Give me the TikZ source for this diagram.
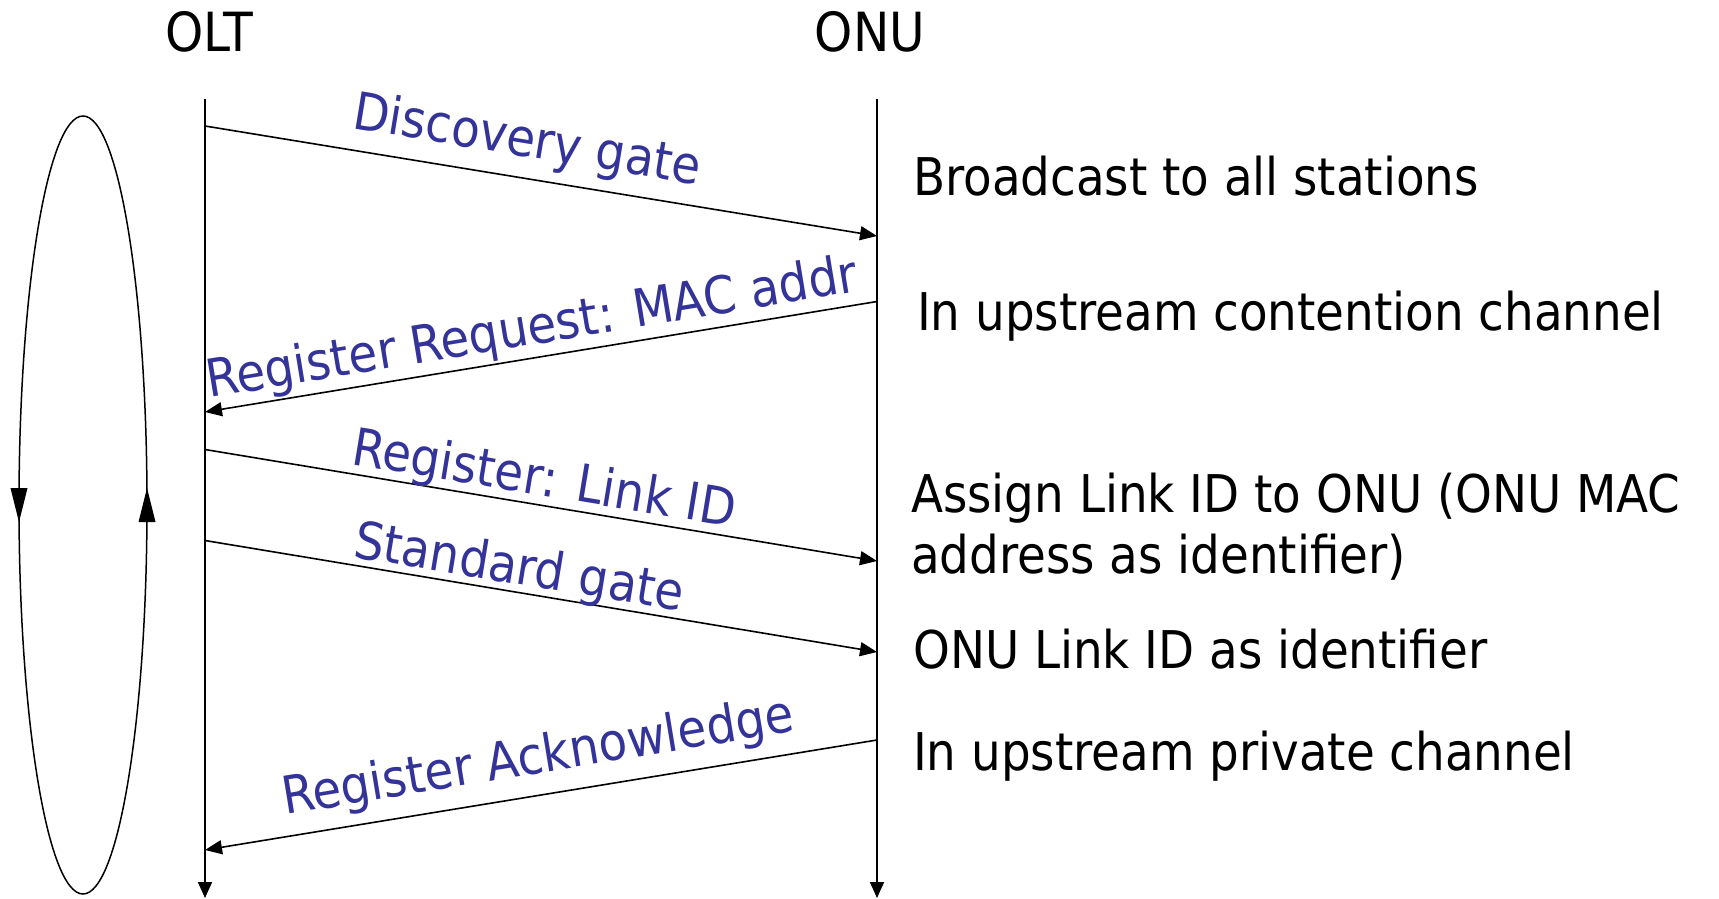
\documentclass[tikz,border=0pt]{standalone}
\usepackage{fontspec}
\setmainfont{DejaVu Sans Condensed}
\usetikzlibrary{arrows.meta}
\definecolor{msgblue}{RGB}{51,51,153}

\begin{document}
\begin{tikzpicture}[x=1pt,y=-1pt,
  every node/.style={inner sep=0pt, font=\fontsize{52}{61}\selectfont},
  heading/.style={anchor=base, font=\fontsize{54}{61}\selectfont},
  lifeline/.style={line width=1.6pt, -{Triangle[length=16pt,width=14pt]}},
  msg/.style={line width=1.6pt, -{Triangle[length=17pt,width=14pt]}},
  msglabel/.style={text=msgblue, anchor=base west},
  note/.style={anchor=base west},
  loop/.style={line width=1.5pt},
  looptip/.style={fill=black},
]
\useasboundingbox (0,0) rectangle (1719,899);

% station headings
\node[heading] (olt) at (209,52) {OLT};
\node[heading] (onu) at (870,52) {ONU};

% lifelines
\coordinate (olttop) at (205,99);
\coordinate (oltend) at (205,898);
\coordinate (onutop) at (877,99);
\coordinate (onuend) at (877,898);
\draw[lifeline] (olttop) -- (oltend);
\draw[lifeline] (onutop) -- (onuend);

% message end points on the lifelines
\coordinate (m1a) at (205,126);   \coordinate (m1b) at (877,236);
\coordinate (m2a) at (877,301.5); \coordinate (m2b) at (205,412);
\coordinate (m3a) at (205,449.5); \coordinate (m3b) at (877,561);
\coordinate (m4a) at (205,540.5); \coordinate (m4b) at (877,652);
\coordinate (m5a) at (877,740);   \coordinate (m5b) at (205,850);

\draw[msg] (m1a) -- (m1b);
\draw[msg] (m2a) -- (m2b);
\draw[msg] (m3a) -- (m3b);
\draw[msg] (m4a) -- (m4b);
\draw[msg] (m5a) -- (m5b);

% message labels
\node[msglabel, rotate=-9.34] (l1) at (351,128) {Discovery gate};
\node[msglabel, rotate=9.34]  (l2) at (209,398) {Register Request: MAC addr};
\node[msglabel, rotate=-9.34] (l3) at (350,464) {Register: Link ID};
\node[msglabel, rotate=-9.34] (l4) at (352,557) {Standard gate};
\node[msglabel, rotate=9.34]  (l5) at (285,815) {Register Acknowledge};

% explanations beside the ONU lifeline
\node[note] (n1) at (913,195) {Broadcast to all stations};
\node[note] (n2) at (917,330) {In upstream contention channel};
\node[note] (n3) at (911,512) {Assign Link ID to ONU (ONU MAC};
\node[note] (n3b) at (911,573) {address as identifier)};
\node[note] (n4) at (913,668) {ONU Link ID as identifier};
\node[note] (n5) at (913,770) {In upstream private channel};

% repeating cycle
\draw[loop] (83,505) ellipse [x radius=64pt, y radius=389pt];
\fill[looptip] (10.5,488) -- (27.5,488) -- (19,522) -- cycle;
\fill[looptip] (138.5,522) -- (155.5,522) -- (147,488) -- cycle;
\end{tikzpicture}
\end{document}
